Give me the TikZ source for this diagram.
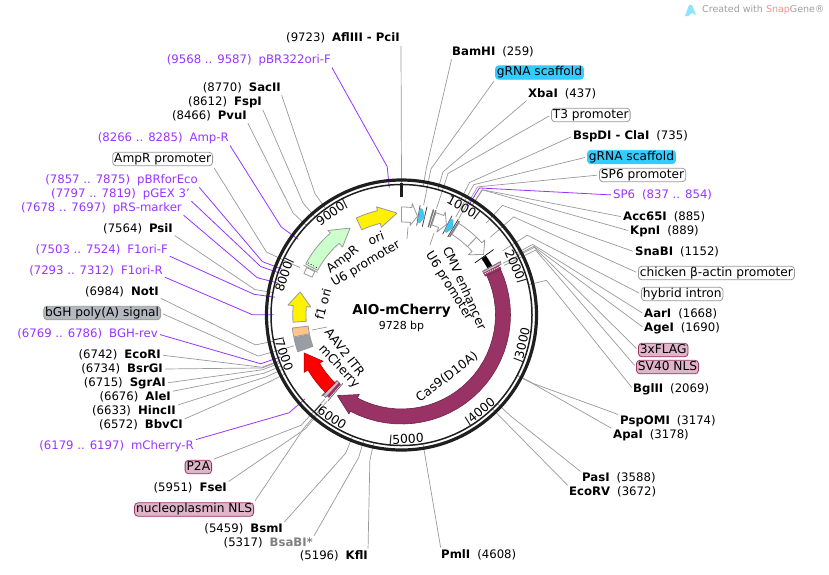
\documentclass[tikz,border=0pt]{standalone}
\usepackage{fontspec}
\setmainfont{DejaVu Sans}
\usetikzlibrary{calc}
\definecolor{primer}{HTML}{9933FF}
\definecolor{connG}{HTML}{999999}
\definecolor{pinkF}{HTML}{DFB5C9}
\definecolor{pinkE}{HTML}{993366}
\definecolor{cyanF}{HTML}{33CCFF}
\definecolor{greyF}{HTML}{B4B9C1}
\tikzset{
  gconn/.style={draw=connG,line width=0.7pt,shorten <=2pt},
  pconn/.style={draw=primer,line width=0.8pt,shorten <=2pt},
  txt/.style={inner sep=0pt,font=\fontsize{11.7}{13}\selectfont},
  ptxt/.style={txt,text=primer},
  boxW/.style={draw=connG,line width=0.8pt,fill=white,rounded corners=3.5pt,inner xsep=1.5pt,inner ysep=1pt,text height=9pt,text depth=2.5pt,font=\fontsize{12.2}{14}\selectfont},
  boxC/.style={boxW,fill=cyanF,draw=cyanF},
  boxP/.style={boxW,fill=pinkF,draw=pinkE},
  boxG/.style={boxW,fill=greyF,draw=connG},
  farr/.style={draw=connG,line width=0.8pt,line join=round},
  ftxt/.style={inner sep=0pt,font=\fontsize{12.3}{14}\selectfont},
  tklab/.style={inner sep=0pt,font=\fontsize{12.3}{14}\selectfont},
}
% #1 style, #2 name, #3 node anchor, #4 x,y, #5 attach anchor, #6 node style, #7 text, #8 angle clockwise from top, #9 inner radius
\newcommand{\lbl}[9][gconn]{%
  \node[#6,anchor=#3] (#2) at (#4) {#7};
  \pgfmathsetmacro\lblang{#8-90}
  \coordinate (#2e) at ($(c)+(\lblang:149)$);
  \coordinate (#2i) at ($(c)+(\lblang:#9)$);
  \draw[#1] (#2.#5) -- (#2e) -- (#2i);
}
\newcommand{\sL}[2]{#1\hspace{7pt}\textbf{#2}}
\newcommand{\sR}[2]{\textbf{#1}\hspace{7pt}#2}
\newcommand{\pL}[2]{#1\hspace{7pt}#2}
% annular arrow: #1 style, #2 start, #3 base, #4 tip, #5 r in, #6 r out, #7 wing in, #8 wing out, #9 tip r
\newcommand{\farrow}[9][farr]{%
  \draw[#1] plot[domain=#2:#3,samples=30] ({\x-90}:#6) -- ({#3-90}:#8) -- ({#4-90}:#9) -- ({#3-90}:#7) -- plot[domain=#3:#2,samples=30] ({\x-90}:#5) -- cycle;
}
% annular block: #1 style, #2 start, #3 end, #4 r in, #5 r out
\newcommand{\fblock}[5][farr]{%
  \draw[#1] plot[domain=#2:#3,samples=12] ({\x-90}:#5) -- plot[domain=#3:#2,samples=12] ({\x-90}:#4) -- cycle;
}
\begin{document}
\begin{tikzpicture}[x=1pt,y=-1pt]
\useasboundingbox (0,0) rectangle (829,574);
\coordinate (c) at (401.5,315);

% --- watermark
\fill[cyanF!55] (685,16) -- (689,5) -- (692,5) -- (696,15) -- (692,13) -- (688,16) -- cycle;
\node[inner sep=0pt,anchor=west,font=\fontsize{9.5}{11}\selectfont,text=black!38] (wm) at (702,10) {Created with \textcolor{red!45!white}{Snap}Gene®};

% --- outer labels (right side)
\lbl{bam}{west}{452,52}{south west}{txt}{\sR{BamHI}{(259)}}{259*0.037007}{131}
\lbl{grnaA}{west}{495,72.5}{south west}{boxC}{gRNA scaffold}{11.4}{112}
\lbl{xba}{west}{528,94}{south west}{txt}{\sR{XbaI}{(437)}}{437*0.037007}{131}
\lbl{tthree}{west}{551,115}{west}{boxW}{T3 promoter}{18.2}{112}
\lbl{cla}{west}{573,136}{west}{txt}{\sR{BspDI - ClaI}{(735)}}{735*0.037007}{131}
\lbl{grnaB}{west}{587,157}{west}{boxC}{gRNA scaffold}{29}{112}
\lbl{spsixp}{west}{599,175}{west}{boxW}{SP6 promoter}{30.7}{112}
\lbl[pconn]{spsix}{west}{613,195}{west}{ptxt}{\pL{SP6}{(837 .. 854)}}{31.5}{128}
\lbl{acc}{west}{623,217}{west}{txt}{\sR{Acc65I}{(885)}}{885*0.037007}{131}
\lbl{kpn}{west}{630,231}{west}{txt}{\sR{KpnI}{(889)}}{889*0.037007}{131}
\lbl{sna}{west}{635,252}{west}{txt}{\sR{SnaBI}{(1152)}}{1152*0.037007}{125}
\lbl{chick}{west}{638,273}{west}{boxW}{chicken β-actin promoter}{48.8}{118}
\lbl{hyb}{west}{641,294}{west}{boxW}{hybrid intron}{57.6}{120}
\lbl{aar}{west}{644,314}{west}{txt}{\sR{AarI}{(1668)}}{1668*0.037007}{131}
\lbl{age}{west}{644,328}{west}{txt}{\sR{AgeI}{(1690)}}{1690*0.037007}{131}
\lbl{flag}{west}{638,350}{west}{boxP}{3xFLAG}{63}{114}
\lbl{sv}{west}{636,367}{west}{boxP}{SV40 NLS}{64.2}{114}
\lbl{bgl}{west}{633,389}{west}{txt}{\sR{BglII}{(2069)}}{2069*0.037007}{131}
\lbl{psp}{west}{620,421}{north west}{txt}{\sR{PspOMI}{(3174)}}{3174*0.037007}{131}
\lbl{apa}{west}{613,435}{north west}{txt}{\sR{ApaI}{(3178)}}{3178*0.037007}{131}
\lbl{pas}{west}{582,478}{north west}{txt}{\sR{PasI}{(3588)}}{3588*0.037007}{131}
\lbl{ecov}{west}{569,492}{north west}{txt}{\sR{EcoRV}{(3672)}}{3672*0.037007}{131}
\lbl{pml}{west}{441,555}{north west}{txt}{\sR{PmlI}{(4608)}}{4608*0.037007}{131}

% --- outer labels (left side)
\lbl{kfl}{east}{368,556}{north east}{txt}{\sL{(5196)}{KflI}}{5196*0.037007}{131}
\lbl{bsa}{east}{313,543}{north east}{txt}{\pL{(5317)}{\textbf{\textcolor{black!50}{BsaBI*}}}}{5317*0.037007}{131}
\lbl{bsm}{east}{283,529}{north east}{txt}{\sL{(5459)}{BsmI}}{5459*0.037007}{131}
\lbl{nuc}{east}{254,509.5}{north east}{boxP}{nucleoplasmin NLS}{220.8}{114}
\lbl{fse}{east}{227,488}{north east}{txt}{\sL{(5951)}{FseI}}{5951*0.037007}{131}
\lbl{ptwo}{east}{212,467}{north east}{boxP}{P2A}{222.3}{114}
\lbl[pconn]{mchr}{east}{194,446}{north east}{ptxt}{\pL{(6179 .. 6197)}{mCherry-R}}{229}{128}
\lbl{bbv}{east}{183,425}{north east}{txt}{\sL{(6572)}{BbvCI}}{6572*0.037007}{131}
\lbl{hinc}{east}{176,411}{north east}{txt}{\sL{(6633)}{HincII}}{6633*0.037007}{131}
\lbl{ale}{east}{171,397}{north east}{txt}{\sL{(6676)}{AleI}}{6676*0.037007}{131}
\lbl{sgr}{east}{166,383}{east}{txt}{\sL{(6715)}{SgrAI}}{6715*0.037007}{131}
\lbl{bsr}{east}{163,369}{east}{txt}{\sL{(6734)}{BsrGI}}{6734*0.037007}{131}
\lbl{eco}{east}{161,355}{east}{txt}{\sL{(6742)}{EcoRI}}{6742*0.037007}{131}
\lbl[pconn]{bghr}{east}{158,334}{east}{ptxt}{\pL{(6769 .. 6786)}{BGH-rev}}{250.9}{128}
\lbl{bgh}{east}{161,313}{east}{boxG}{bGH poly(A) signal}{254}{112}
\lbl{not}{east}{159,292}{south east}{txt}{\sL{(6984)}{NotI}}{6984*0.037007}{131}
\lbl[pconn]{fr}{east}{163,271}{south east}{ptxt}{\pL{(7293 .. 7312)}{F1ori-R}}{270.1}{128}
\lbl[pconn]{ff}{east}{168,250}{south east}{ptxt}{\pL{(7503 .. 7524)}{F1ori-F}}{278}{128}
\lbl{psi}{east}{173,229}{south east}{txt}{\sL{(7564)}{PsiI}}{7564*0.037007}{131}
\lbl[pconn]{prs}{east}{182,208}{south east}{ptxt}{\pL{(7678 .. 7697)}{pRS-marker}}{284.5}{128}
\lbl[pconn]{pgex}{east}{190,194}{south east}{ptxt}{\pL{(7797 .. 7819)}{pGEX 3'}}{289}{128}
\lbl[pconn]{pbr}{east}{198,180}{south east}{ptxt}{\pL{(7857 .. 7875)}{pBRforEco}}{291}{128}
\lbl{amppr}{east}{213,159}{south east}{boxW}{AmpR promoter}{295}{112}
\lbl[pconn]{ampr}{east}{229,138}{south east}{ptxt}{\pL{(8266 .. 8285)}{Amp-R}}{306.2}{128}
\lbl{pvu}{east}{247,116}{south east}{txt}{\sL{(8466)}{PvuI}}{8466*0.037007}{131}
\lbl{fsp}{east}{262,102}{south east}{txt}{\sL{(8612)}{FspI}}{8612*0.037007}{131}
\lbl{sac}{east}{281,88}{south east}{txt}{\sL{(8770)}{SacII}}{8770*0.037007}{131}
\lbl[pconn]{pbrf}{east}{331,60}{south east}{ptxt}{\pL{(9568 .. 9587)}{pBR322ori-F}}{354.5}{128}
\node[txt,anchor=east] (afl) at (400,38) {\sL{(9723)}{AflIII - PciI}};
\coordinate (afli) at ($(c)+(-90:131)$);
\coordinate (aflt) at (401,46);
\draw[gconn,shorten <=0pt] (aflt) -- (afli);

% --- ring
\draw[draw=black!88,line width=3.2pt] (c) circle[radius=135pt];
\draw[draw=black!88,line width=1.5pt] (c) circle[radius=130.5pt];

\begin{scope}[shift={(401.5,315)}]
% --- origin tick and thousand ticks
\draw[black!88,line width=3pt] (-90:132) -- (-90:118);
\foreach \k in {1,...,9}{
  \pgfmathsetmacro\tang{\k*1000*0.037007}
  \pgfmathsetmacro\lang{\tang-8}
  \pgfmathsetmacro\rot{(\lang>90 && \lang<270) ? 180-\lang : -\lang}
  \draw[black!85,line width=1pt] ({\tang-90}:130) -- ({\tang-90}:120);
  \node[tklab,rotate=\rot] (tick\k) at ({\lang-90}:124) {\k000};
}

% --- features
\farrow[farr,fill=white]{0}{5.5}{9.2}{93}{108}{90}{112}{100}
\fblock[draw=black!75,line width=0.6pt]{9.6}{9.7}{91}{111}
\fblock[draw=black!75,line width=0.6pt]{13.2}{13.3}{91}{111}
\farrow[draw=connG,line width=0.4pt,fill=cyanF]{9.8}{11.2}{13.2}{94}{108}{94}{108}{101}
\fblock[fill=black!55,draw=black!55,line width=0.3pt]{16.6}{17.2}{92}{110}
\fblock[fill=black!55,draw=black!55,line width=0.3pt]{17.9}{18.4}{92}{110}
\farrow[farr,fill=white]{18.6}{23}{26.4}{95}{108}{90}{112}{101}
\fblock[draw=black!75,line width=0.6pt]{26.9}{27}{91}{111}
\fblock[draw=black!75,line width=0.6pt]{30.6}{30.7}{91}{111}
\farrow[draw=connG,line width=0.4pt,fill=cyanF]{27.1}{28.6}{30.5}{94}{108}{94}{108}{101}
\fblock[fill=black!55,draw=black!55,line width=0.3pt]{31.3}{31.9}{92}{110}
\fblock[farr,fill=white]{32}{44}{95}{108}
\farrow[farr,fill=white]{44}{48}{53.6}{95}{108}{90}{112}{102}
\draw[black,line width=0.7pt] ({54.6-90}:90) -- ({54.6-90}:113);
\fblock[fill=black,draw=black,line width=0.2pt]{55}{61.5}{98}{103}
\draw[connG,line width=0.7pt] ({61.6-90}:92) -- ({61.6-90}:113);
\fblock[draw=black!60,line width=0.5pt,fill=pinkF]{61.8}{63}{92}{112}
\fblock[draw=none,fill=pinkE]{63}{65.3}{92}{110}
\draw[white,line width=1pt,dash pattern=on 1pt off 1pt] ({63.7-90}:93) -- ({63.7-90}:110);
\farrow[draw=pinkE!70!black,line width=0.6pt,fill=pinkE]{65.3}{208}{218.5}{94}{109}{90}{112}{103}
\fblock[draw=black!60,line width=0.5pt,fill=pinkF]{222.6}{224.3}{92}{112}
\fblock[draw=none,fill=pinkE]{221.2}{222.6}{92}{110}
\draw[black!70,line width=0.6pt] ({220.6-90}:90) -- ({220.6-90}:113);
\draw[black!70,line width=0.6pt] ({224.6-90}:92) -- ({224.6-90}:114);
\farrow[draw=red!70!black,line width=0.5pt,fill=red]{224.5}{239.5}{248.7}{95}{108.5}{91}{113}{104.5}
\fblock[farr,fill=greyF!85!black]{250.5}{258}{94}{110}
\fblock[farr,fill=orange!45!white]{258.5}{263.2}{94}{110}
\farrow[farr,fill=yellow]{266.2}{275}{282.8}{95.5}{108.7}{91}{114}{104}
\fblock[farr,fill=white]{293}{296.6}{97}{106}
\draw[farr] ({297-90}:94) -- ({297-90}:110);
\farrow[farr,fill=green!20!white]{298}{319}{329.4}{95}{108.5}{90}{112}{101}
\draw[black,line width=0.6pt,dash pattern=on 1pt off 2pt] ({299.2-90}:97) -- ({299.2-90}:107);
\farrow[farr,fill=yellow]{335}{347}{357.5}{94}{107}{90}{111}{102}
\end{scope}

% --- short inner connectors
\coordinate (ua) at (408,227);
\coordinate (ub) at (407,239);
\draw[gconn,shorten <=0pt] (ua) -- (ub);
\coordinate (uc) at (434,233);
\coordinate (ud) at (430,245);
\draw[gconn,shorten <=0pt] (uc) -- (ud);
\coordinate (ue) at (312,330);
\coordinate (uf) at (327,327);
\draw[gconn,shorten <=0pt] (ue) -- (uf);

% --- feature names and title
\node[ftxt,rotate=-66] (tcmv) at (465,288) {CMV enhancer};
\node[ftxt,rotate=-58] (tuone) at (449,286) {U6 promoter};
\node[ftxt,rotate=20] (tori) at (376,238) {ori};
\node[ftxt,rotate=31] (tutwo) at (366,264) {U6 promoter};
\node[ftxt,rotate=38] (tamp) at (343,260) {AmpR};
\node[ftxt,rotate=75] (tfone) at (323,304) {f1 ori};
\node[ftxt,rotate=-52] (taav) at (345,352) {AAV2 ITR};
\node[ftxt,rotate=-47] (tmch) at (339,367) {mCherry};
\node[ftxt,rotate=37] (tcas) at (447,377) {Cas9(D10A)};
\node[inner sep=0pt,font=\bfseries\fontsize{13.6}{15}\selectfont] (title) at (401.5,311) {AIO-mCherry};
\node[inner sep=0pt,font=\fontsize{11}{13}\selectfont] (size) at (401.5,326) {9728 bp};
\end{tikzpicture}
\end{document}
